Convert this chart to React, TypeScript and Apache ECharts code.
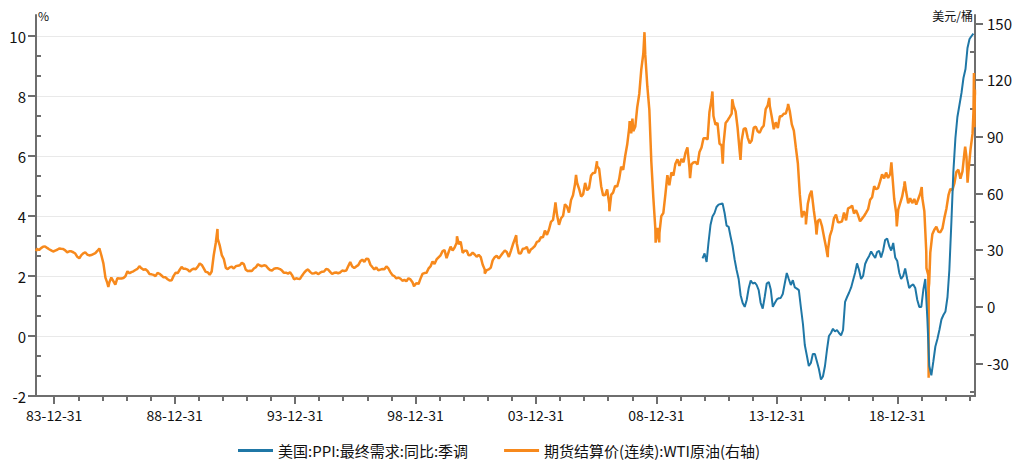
import React, { useEffect, useRef } from "react";
import * as echarts from "echarts";

// ---------- data ----------
// US PPI final demand YoY (SA), %, monthly from 2010-11
const ppiStartYear = 2010;
const ppiStartMonth = 11;
const ppiYoY = [
  2.59, 2.75, 2.47, 3.1, 3.7, 3.98, 4.1, 4.3, 4.38, 4.4,
  4.42, 4.1, 3.68, 3.64, 3.3, 3.0, 2.55, 2.2, 1.9, 1.36,
  1.1, 0.97, 1.2, 1.6, 1.85, 1.75, 1.78, 1.7, 1.53, 1.1,
  0.91, 1.3, 1.75, 1.8, 1.55, 0.97, 1.1, 1.22, 1.26, 1.27,
  1.4, 1.75, 2.1, 1.9, 1.7, 1.86, 1.62, 1.58, 1.53, 0.95,
  0.4, -0.3, -0.65, -1.0, -0.9, -0.6, -0.6, -0.85, -1.1, -1.45,
  -1.35, -1.0, -0.45, 0.0, 0.1, 0.24, 0.15, 0.2, 0.1, 0.02,
  0.2, 1.14, 1.3, 1.45, 1.62, 1.85, 2.1, 2.42, 2.2, 1.9,
  2.0, 2.4, 2.55, 2.67, 2.82, 2.7, 2.6, 2.8, 2.84, 2.62,
  2.85, 3.2, 3.25, 3.0, 2.85, 3.1, 2.62, 2.5, 2.1, 1.9,
  2.0, 2.25, 1.9, 1.6, 1.68, 1.72, 1.6, 1.2, 0.97, 0.97,
  1.55, 1.9, 0.6, -1.0, -1.31, -0.85, -0.35, -0.1, 0.2, 0.55,
  0.7, 0.82, 1.3, 2.2, 3.8, 5.48, 6.6, 7.3, 7.7, 8.1,
  8.6, 8.9, 9.6, 9.9, 10.0, 10.08,
];

// WTI continuous futures settlement, USD/bbl, monthly levels from 1983-04
const wtiStartYear = 1983;
const wtiStartMonth = 4;
const wtiMonthly = [
  30.6, 30.0, 31.0, 31.7, 31.9, 31.1, 30.4, 29.8, 29.2,
  29.7, 30.1, 30.8, 30.6, 30.5, 29.8, 28.8, 29.3, 29.3, 28.8, 28.1, 26.4,
  25.6, 27.3, 28.2, 28.8, 27.6, 27.1, 27.3, 27.8, 28.3, 29.5, 30.8, 27.2,
  22.9, 15.4, 12.6, 12.8, 15.4, 13.5, 11.6, 15.1, 14.9, 14.9, 15.2, 16.1,
  18.7, 17.7, 18.3, 18.7, 19.4, 20.0, 21.4, 20.3, 19.5, 19.8, 18.9, 17.3,
  17.1, 16.8, 16.2, 17.9, 17.4, 16.5, 15.5, 15.5, 14.5, 13.8, 14.0, 16.3,
  18.0, 17.8, 19.4, 21.0, 20.0, 20.0, 19.6, 18.5, 19.6, 20.1, 19.8, 21.1,
  22.9, 22.1, 20.4, 18.4, 18.2, 16.9, 18.6, 27.2, 33.7, 35.9, 32.3, 27.3,
  25.2, 20.5, 19.9, 20.8, 21.2, 20.2, 21.4, 21.7, 21.9, 23.2, 22.5, 19.5,
  18.8, 19.0, 18.9, 20.2, 20.9, 22.4, 21.8, 21.4, 21.9, 21.7, 20.3, 19.4,
  19.1, 20.1, 20.3, 20.3, 19.9, 19.1, 17.9, 18.0, 17.5, 18.2, 16.7, 14.5,
  15.0, 14.8, 14.7, 16.4, 17.9, 19.1, 19.7, 18.4, 17.5, 17.7, 18.1, 17.2,
  18.0, 18.5, 18.6, 19.9, 19.7, 18.4, 17.3, 17.9, 18.1, 17.7, 18.1, 19.1,
  18.9, 19.1, 21.4, 23.6, 21.3, 20.5, 21.3, 22.0, 24.0, 24.9, 23.7, 25.4,
  25.2, 22.2, 21.0, 19.7, 20.8, 19.2, 19.6, 19.9, 19.8, 21.3, 20.2, 18.3,
  16.7, 16.1, 15.0, 15.4, 14.9, 13.7, 14.2, 13.5, 15.0, 14.4, 12.9, 11.3,
  12.5, 12.0, 14.7, 17.3, 17.8, 17.9, 20.1, 21.3, 23.9, 22.6, 25.0, 26.1,
  27.2, 29.4, 29.9, 25.7, 28.8, 31.8, 29.7, 31.3, 33.9, 33.1, 34.4, 28.5,
  29.6, 29.6, 27.2, 27.4, 28.6, 27.6, 26.4, 27.4, 26.2, 22.2, 19.6, 19.3,
  19.7, 20.7, 24.5, 26.2, 27.0, 25.5, 26.9, 28.4, 29.7, 28.9, 26.3, 29.4,
  32.9, 35.9, 33.6, 28.3, 28.1, 30.7, 30.8, 31.6, 28.3, 30.3, 31.1, 32.1,
  34.3, 34.7, 36.7, 36.7, 40.3, 38.0, 40.7, 44.9, 45.9, 53.1, 48.5, 43.3,
  46.8, 48.1, 54.2, 53.0, 49.8, 56.4, 59.0, 64.9, 65.6, 62.4, 58.3, 59.4,
  65.5, 61.6, 62.7, 69.4, 70.8, 70.9, 74.4, 73.0, 63.8, 58.9, 59.1, 62.0,
  54.5, 59.3, 60.4, 63.9, 63.5, 67.5, 74.1, 72.4, 79.9, 85.8, 94.8, 91.7,
  92.9, 95.4, 105.5, 112.6, 125.4, 133.9, 133.4, 116.7, 104.1, 76.6, 57.3, 41.1,
  41.7, 39.1, 47.9, 49.6, 59.0, 69.6, 64.2, 71.1, 69.4, 75.7, 78.0, 74.5,
  78.3, 76.4, 81.2, 84.3, 73.7, 75.3, 76.3, 76.6, 75.2, 81.9, 84.3, 89.2,
  89.2, 88.6, 102.9, 109.5, 100.9, 96.3, 97.3, 86.3, 85.5, 86.3, 97.2, 98.6,
  100.3, 102.2, 106.2, 103.3, 94.7, 82.3, 87.9, 94.1, 94.5, 89.5, 86.5, 87.9,
  94.8, 95.3, 92.9, 92.0, 94.5, 95.8, 104.6, 106.6, 106.3, 100.5, 93.9, 97.6,
  94.6, 100.8, 100.8, 102.1, 102.2, 105.8, 103.6, 96.5, 93.2, 84.4, 75.8, 59.3,
  47.2, 50.6, 47.8, 54.5, 59.3, 59.8, 50.9, 42.9, 45.5, 46.2, 42.7, 37.2,
  31.7, 30.3, 37.5, 40.8, 46.7, 48.8, 44.7, 44.7, 45.2, 49.8, 45.7, 52.0,
  52.5, 53.5, 49.3, 51.1, 48.5, 45.2, 46.6, 48.0, 49.8, 51.6, 56.6, 57.9,
  63.7, 62.2, 62.7, 66.3, 70.0, 67.9, 71.0, 68.1, 70.2, 70.8, 57.0, 49.5,
  51.4, 55.0, 58.2, 63.9, 60.8, 54.7, 57.4, 54.8, 57.0, 54.0, 57.0, 59.9,
  57.5, 50.5, 29.2, 16.6, 28.6, 38.3, 40.7, 42.3, 39.6, 39.4, 41.4, 47.0,
  52.0, 59.0, 62.3, 61.7, 65.2, 71.4, 72.5, 67.7, 71.6, 81.5, 79.2, 71.7,
  83.2, 91.6,
];

// WTI notable daily settlements (peaks / troughs / end of series)
const wtiDailyDates = [
  "1983-03-30", "1986-03-31", "1990-10-11", "1998-12-10", "2000-09-20",
  "2001-11-15", "2003-03-07", "2004-10-22", "2005-08-30", "2006-07-14",
  "2007-01-18", "2007-11-21", "2008-01-02", "2008-07-03", "2008-12-19",
  "2009-02-12", "2010-05-25", "2011-04-29", "2011-10-03", "2012-02-24",
  "2012-06-28", "2013-09-06", "2014-06-20", "2015-03-17", "2015-06-10",
  "2015-08-24", "2016-02-11", "2018-10-03", "2018-12-24", "2019-04-23",
  "2020-01-06", "2020-03-18", "2020-04-20", "2020-04-21", "2020-04-28",
  "2021-10-26", "2021-12-01", "2022-03-01", "2022-03-08", "2022-03-16",
  "2022-03-23", "2022-03-24",
];
const wtiDailyValues = [
  29.4, 10.4, 41.1, 10.7, 37.2,
  17.5, 37.8, 55.2, 69.8, 77.0,
  50.5, 98.2, 99.6, 145.3, 33.9,
  34.0, 68.0, 113.9, 75.7, 109.8,
  77.7, 110.5, 107.3, 43.5, 61.4,
  38.2, 26.2, 76.4, 42.5, 66.3,
  63.3, 20.4, -37.6, 10.0, 12.3,
  84.7, 65.6, 103.4, 123.7, 95.0,
  114.9, 112.3,
];

const majorTickYears = [1983, 1988, 1993, 1998, 2003, 2008, 2013, 2018];
const leftTicks = [-2, 0, 2, 4, 6, 8, 10];
const rightTicks = [-30, 0, 30, 60, 90, 120, 150];

const seriesNames = ["美国:PPI:最终需求:同比:季调", "期货结算价(连续):WTI原油(右轴)"];

// ---------- helpers ----------
const parseDate = (s: string) => {
  const [y, m, d] = s.split("-").map(Number);
  return Date.UTC(y, m - 1, d);
};
const fmtDate = (v: number) => {
  const d = new Date(v);
  const p = (n: number) => String(n).padStart(2, "0");
  return `${p(d.getUTCFullYear() % 100)}-${p(d.getUTCMonth() + 1)}-${p(d.getUTCDate())}`;
};

export default function App() {
  const ref = useRef<HTMLDivElement>(null);

  useEffect(() => {
    document.body.style.margin = "0";
    if (!ref.current) return;
    const chart = echarts.init(ref.current, undefined, { renderer: "svg" });

    const ppiData = ppiYoY.map((v, i) => {
      const mIdx = ppiStartMonth - 1 + i;
      const y = ppiStartYear + Math.floor(mIdx / 12);
      const m = mIdx % 12;
      return [Date.UTC(y, m + 1, 0), v];
    });

    const wtiPts: [number, number][] = wtiMonthly.map((v, i) => {
      const mIdx = wtiStartMonth - 1 + i;
      const y = wtiStartYear + Math.floor(mIdx / 12);
      const m = mIdx % 12;
      return [Date.UTC(y, m, 15), v];
    });
    wtiDailyDates.forEach((d, i) => wtiPts.push([parseDate(d), wtiDailyValues[i]]));
    wtiPts.sort((a, b) => a[0] - b[0]);

    const xMin = parseDate("1983-03-30");
    const xMax = parseDate("2022-03-24");
    const majorX = majorTickYears.map((y) => Date.UTC(y, 11, 31));
    const minorX: number[] = [];
    for (let y = 1984; y <= 2021; y++) {
      if (!majorTickYears.includes(y)) minorX.push(Date.UTC(y, 11, 31));
    }
    const leftMinor: number[] = [];
    for (let i = 0; i < leftTicks.length - 1; i++) {
      const a = leftTicks[i], b = leftTicks[i + 1];
      leftMinor.push(a + (b - a) / 3, a + (2 * (b - a)) / 3);
    }
    const rightMinor: number[] = [-45];
    for (let i = 0; i < rightTicks.length - 1; i++) {
      rightMinor.push((rightTicks[i] + rightTicks[i + 1]) / 2);
    }

    const axisColor = "#6e6e6e";
    const textColor = "#111";
    const font = "'Microsoft YaHei', 'Noto Sans CJK SC', sans-serif";

    chart.setOption({
      animation: false,
      textStyle: { fontFamily: font },
      grid: { left: 36, right: 45, top: 15, bottom: 69, containLabel: false },
      legend: {
        left: 233,
        top: 438,
        icon: "rect",
        itemWidth: 35,
        itemHeight: 3,
        itemGap: 36,
        textStyle: { fontSize: 15, color: textColor, fontFamily: font },
        data: seriesNames,
      },
      graphic: [
        {
          type: "text",
          left: 38,
          top: 9,
          style: { text: "%", fontSize: 12, fill: textColor, fontFamily: font },
        },
        {
          type: "text",
          right: 47,
          top: 9,
          style: { text: "美元/桶", fontSize: 12, fill: textColor, fontFamily: font },
        },
      ],
      xAxis: [
        {
          type: "value",
          position: "bottom",
          min: xMin,
          max: xMax,
          axisLine: { show: true, onZero: false, lineStyle: { color: axisColor, width: 2 } },
          axisTick: { show: true, customValues: majorX, length: 8, lineStyle: { color: axisColor, width: 2 } },
          axisLabel: {
            customValues: majorX,
            formatter: (v: number) => fmtDate(v),
            color: textColor,
            fontSize: 14,
            margin: 12,
            fontFamily: font,
          },
          splitLine: { show: false },
        },
        {
          type: "value",
          position: "bottom",
          min: xMin,
          max: xMax,
          axisLine: { show: false, onZero: false },
          axisTick: { show: true, customValues: minorX, length: 5, lineStyle: { color: axisColor, width: 2 } },
          axisLabel: { show: false },
          splitLine: { show: false },
        },
      ],
      yAxis: [
        {
          type: "value",
          position: "left",
          min: -2,
          max: 10.7,
          axisLine: { show: true, onZero: false, lineStyle: { color: axisColor, width: 2 } },
          axisTick: { show: true, customValues: leftTicks, length: 8, lineStyle: { color: axisColor, width: 2 } },
          axisLabel: { customValues: leftTicks, color: textColor, fontSize: 15, margin: 10, fontFamily: font },
          splitLine: { show: true, lineStyle: { color: "#e9e9e9", width: 1 } },
        },
        {
          type: "value",
          position: "right",
          min: -47.3,
          max: 154.4,
          axisLine: { show: true, onZero: false, lineStyle: { color: axisColor, width: 2 } },
          axisTick: { show: true, customValues: rightTicks, length: 8, lineStyle: { color: axisColor, width: 2 } },
          axisLabel: { customValues: rightTicks, color: textColor, fontSize: 15, margin: 12, fontFamily: font },
          splitLine: { show: false },
        },
        {
          type: "value",
          position: "left",
          min: -2,
          max: 10.7,
          axisLine: { show: false, onZero: false },
          axisTick: { show: true, inside: true, customValues: leftMinor, length: 5, lineStyle: { color: axisColor, width: 2 } },
          axisLabel: { show: false },
          splitLine: { show: false },
        },
        {
          type: "value",
          position: "right",
          min: -47.3,
          max: 154.4,
          axisLine: { show: false, onZero: false },
          axisTick: { show: true, inside: true, customValues: rightMinor, length: 5, lineStyle: { color: axisColor, width: 2 } },
          axisLabel: { show: false },
          splitLine: { show: false },
        },
      ],
      series: [
        {
          name: seriesNames[0],
          type: "line",
          xAxisIndex: 0,
          yAxisIndex: 0,
          data: ppiData,
          showSymbol: false,
          symbol: "none",
          z: 3,
          lineStyle: { color: "#1f77a6", width: 2 },
          itemStyle: { color: "#1f77a6" },
        },
        {
          name: seriesNames[1],
          type: "line",
          xAxisIndex: 0,
          yAxisIndex: 1,
          data: wtiPts,
          showSymbol: false,
          symbol: "none",
          z: 2,
          lineStyle: { color: "#f7891c", width: 2.5 },
          itemStyle: { color: "#f7891c" },
        },
      ],
    });

    return () => chart.dispose();
  }, []);

  return <div ref={ref} style={{ width: 1020, height: 465 }} />;
}
